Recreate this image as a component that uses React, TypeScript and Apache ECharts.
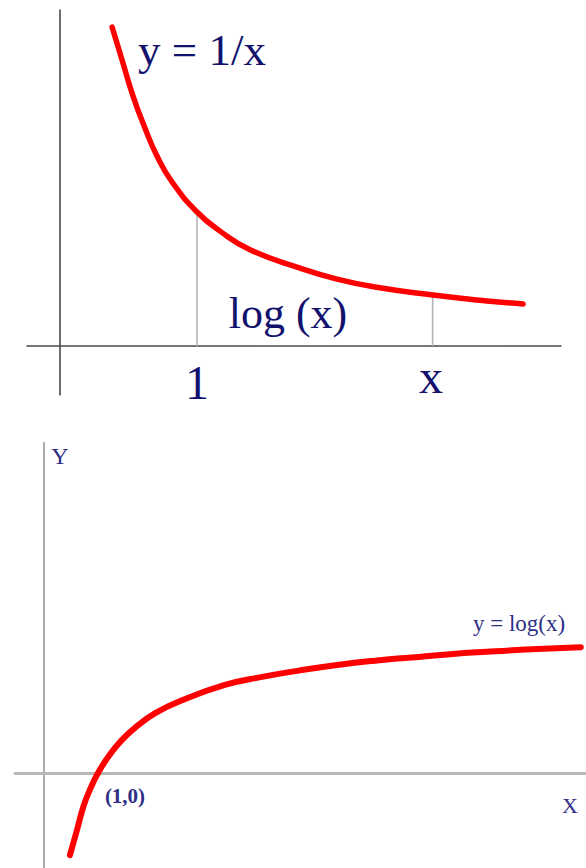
import React, { useEffect, useRef } from "react";
import * as echarts from "echarts";

// ---- Top panel: y = 1/x ----
const topCurveX = [0.38, 0.453, 0.533, 0.62, 0.708, 0.818, 1.0, 1.168, 1.387, 1.752, 2.022, 2.299, 2.723, 3.117, 3.38];
const topCurveY = [2.435, 2.183, 1.908, 1.664, 1.45, 1.252, 1.023, 0.877, 0.735, 0.595, 0.511, 0.45, 0.389, 0.344, 0.321];
const topDropX = [1.0, 2.72];
const topDropY = [1.02, 0.39];
const topTickLabels = ["1", "x"];

// ---- Bottom panel: y = log(x) ----
const bottomCurveX = [0.48, 0.61, 0.73, 0.85, 1.0, 1.19, 1.44, 1.75, 2.06, 2.49, 3.35, 4.04, 4.74, 5.43, 6.13, 6.81, 7.52, 8.2, 8.91, 9.94];
const bottomCurveY = [-1.52, -1.06, -0.62, -0.31, 0, 0.3, 0.61, 0.89, 1.11, 1.32, 1.63, 1.78, 1.9, 2.0, 2.08, 2.14, 2.2, 2.245, 2.285, 2.33];

const NAVY = "#12126e";
const NAVY2 = "#2e2e86";
const SERIF = '"Liberation Serif", "Times New Roman", serif';

function txt(text: string, x: number, y: number, size: number, color: string, weight = "normal") {
  return {
    type: "text",
    x,
    y,
    z: 10,
    style: {
      text,
      fill: color,
      font: `${weight} ${size}px ${SERIF}`,
      textAlign: "center",
      textVerticalAlign: "middle",
      align: "center",
      verticalAlign: "middle",
    },
  };
}

export default function App() {
  const ref = useRef<HTMLDivElement>(null);
  useEffect(() => {
    const chart = echarts.init(ref.current!, undefined, { renderer: "svg", width: 586, height: 868 });
    const topCurve = topCurveX.map((x, i) => [x, topCurveY[i]]);
    const bottomCurve = bottomCurveX.map((x, i) => [x, bottomCurveY[i]]);
    const drops = topDropX.map((x, i) => ({
      type: "line",
      xAxisIndex: 0,
      yAxisIndex: 0,
      data: [
        [x, 0],
        [x, topDropY[i]],
      ],
      showSymbol: false,
      silent: true,
      z: 1,
      lineStyle: { color: "#b2b6b6", width: 1.6 },
    }));
    const option: any = {
      animation: false,
      backgroundColor: "#ffffff",
      grid: [
        { left: 27, top: 10, width: 534, height: 385 },
        { left: 15, top: 443, width: 571, height: 425 },
      ],
      xAxis: [
        {
          gridIndex: 0,
          type: "value",
          min: -0.241,
          max: 3.657,
          axisLine: { show: true, onZero: true, lineStyle: { color: "#4a4a4a", width: 1.6 } },
          axisTick: { show: false },
          axisLabel: { show: false },
          splitLine: { show: false },
        },
        {
          gridIndex: 1,
          type: "value",
          min: -0.537,
          max: 10.037,
          axisLine: { show: true, onZero: true, lineStyle: { color: "#b8b8b8", width: 3 } },
          axisTick: { show: false },
          axisLabel: { show: false },
          splitLine: { show: false },
        },
      ],
      yAxis: [
        {
          gridIndex: 0,
          type: "value",
          min: -0.374,
          max: 2.565,
          axisLine: { show: true, onZero: true, lineStyle: { color: "#4a4a4a", width: 1.6 } },
          axisTick: { show: false },
          axisLabel: { show: false },
          splitLine: { show: false },
        },
        {
          gridIndex: 1,
          type: "value",
          min: -1.759,
          max: 6.111,
          axisLine: { show: true, onZero: true, lineStyle: { color: "#aaaaaa", width: 2 } },
          axisTick: { show: false },
          axisLabel: { show: false },
          splitLine: { show: false },
        },
      ],
      series: [
        ...drops,
        {
          type: "line",
          xAxisIndex: 0,
          yAxisIndex: 0,
          data: topCurve,
          smooth: 0.5,
          showSymbol: false,
          silent: true,
          z: 3,
          lineStyle: { color: "#ff0000", width: 5.5, cap: "round", join: "round" },
        },
        {
          type: "line",
          xAxisIndex: 1,
          yAxisIndex: 1,
          data: bottomCurve,
          smooth: 0.5,
          showSymbol: false,
          silent: true,
          z: 3,
          lineStyle: { color: "#ff0000", width: 6, cap: "round", join: "round" },
        },
      ],
      graphic: [
        txt("y = 1/x", 202, 50, 45, NAVY),
        txt("log (x)", 288, 313, 44, NAVY),
        txt(topTickLabels[0], 197, 382, 48, NAVY),
        txt(topTickLabels[1], 431, 376, 48, NAVY),
        txt("Y", 60, 456, 24, NAVY2),
        txt("(1,0)", 125, 796, 21, NAVY2, "bold"),
        txt("y = log(x)", 519, 623, 23, NAVY2),
        txt("X", 570, 805, 22, NAVY2),
      ],
    };
    chart.setOption(option);
    return () => chart.dispose();
  }, []);
  return (
    <div
      ref={ref}
      style={{ position: "fixed", left: 0, top: 0, width: 586, height: 868, background: "#ffffff" }}
    />
  );
}
